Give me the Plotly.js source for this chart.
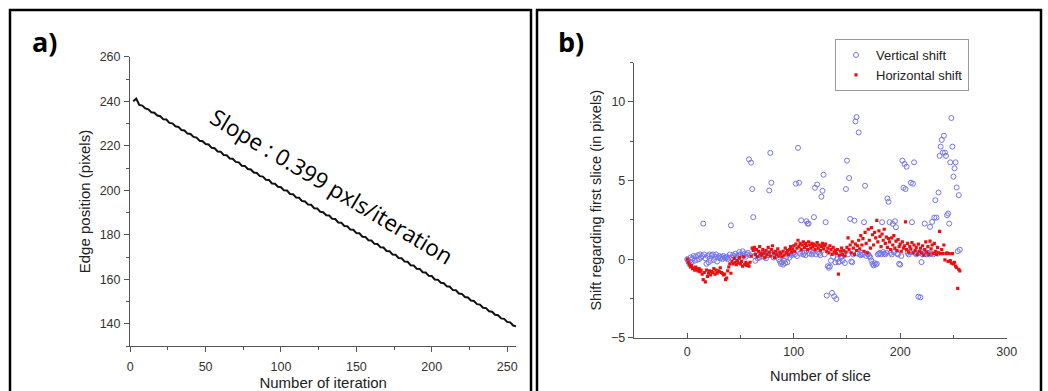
<!DOCTYPE html>
<html>
<head>
<meta charset="utf-8">
<script src="https://cdn.plot.ly/plotly-3.0.1.min.js"></script>
<style>html,body{margin:0;padding:0;background:#fff;}#chart{width:1048px;height:391px;}</style>
</head>
<body>
<div id="chart"></div>
<script>
// Panel a: edge position per iteration (iterations 2,4,...,256)
const iterationStart = 2;
const iterationStep = 2;
const edgePosition = [
240.0,241.2,238.4,238.1,236.8,236.4,235.1,234.9,233.6,233.3,
231.9,231.8,230.3,230.1,228.8,228.5,227.1,226.9,225.5,225.3,
224.0,223.7,222.3,222.1,220.8,220.6,219.1,218.9,217.5,217.4,
215.9,215.8,214.3,214.2,212.8,212.6,211.1,211.0,209.6,209.4,
208.0,207.8,206.4,206.2,204.8,204.7,203.1,203.0,201.6,201.4,
200.0,199.9,198.4,198.3,196.8,196.7,195.2,195.0,193.6,193.5,
192.0,191.9,190.4,190.2,188.8,188.7,187.2,187.1,185.6,185.5,
184.0,183.9,182.4,182.3,180.8,180.7,179.2,179.1,177.6,177.5,
176.0,175.9,174.4,174.3,172.8,172.7,171.2,171.1,169.6,169.5,
168.0,167.9,166.4,166.3,164.8,164.7,163.2,163.1,161.6,161.5,
160.0,159.9,158.5,158.3,156.9,156.7,155.2,155.1,153.7,153.5,
152.1,151.9,150.5,150.3,148.9,148.7,147.3,147.1,145.7,145.5,
144.1,143.9,142.5,142.3,140.9,140.7,139.3,138.9
];
const slopeLabel = "Slope : 0.399 pxls/iteration";

// Panel b: shift per slice (slices 0..256)
const sliceStart = 0;
const sliceStep = 1;
const verticalShift = [
0.0,-0.15,-0.3,0.1,-0.2,0.05,0.2,-0.1,0.15,-0.05,
0.25,0.0,0.3,0.1,0.2,2.26,0.3,0.05,-0.3,0.2,
-0.2,0.3,-0.1,0.25,0.3,-0.05,0.15,0.3,-0.15,0.1,
0.2,0.05,0.15,0.0,0.2,0.1,0.05,0.15,0.0,0.1,
0.3,2.15,0.1,0.25,0.2,0.35,0.15,0.05,0.25,0.45,
0.3,0.1,0.5,0.2,0.35,0.15,0.3,0.4,6.35,0.25,
6.14,4.46,2.67,0.2,-0.1,0.3,0.05,0.25,0.1,0.35,
0.2,0.4,0.15,0.3,0.05,0.35,0.25,4.37,6.76,4.86,
0.3,0.1,0.4,0.2,0.35,0.25,0.0,-0.15,-0.3,-0.2,
-0.35,-0.1,-0.25,0.15,-0.2,0.3,0.1,0.4,0.25,0.35,
0.4,0.3,4.8,0.2,7.08,4.86,0.35,2.47,0.45,0.3,
0.4,0.25,2.41,2.26,2.26,0.35,0.5,0.3,0.4,2.67,
4.54,0.3,4.75,0.45,0.35,0.25,3.97,4.35,5.37,0.3,
2.35,-2.32,-0.45,-0.55,-0.47,-0.1,-2.15,0.15,-2.37,-0.2,
-2.54,0.0,-0.2,-0.15,0.1,0.2,-0.1,0.3,-0.25,4.46,
6.27,0.3,5.16,2.56,-0.15,-0.2,0.3,2.45,8.76,9.04,
0.35,8.06,0.3,0.25,0.4,0.3,2.35,4.67,0.2,0.35,
0.3,0.2,0.1,-0.1,-0.3,-0.4,-0.25,-0.35,-0.3,0.3,
0.35,0.4,0.3,2.35,0.45,0.35,0.3,0.4,3.86,3.65,
2.35,0.4,0.3,2.24,0.45,2.41,2.03,0.35,0.3,-0.3,
-0.35,0.2,6.27,4.54,6.06,4.46,5.88,0.4,0.3,0.45,
4.86,2.35,4.8,6.16,0.4,0.3,0.35,-2.39,0.4,-2.43,
-0.19,0.3,0.45,2.26,0.35,0.3,0.4,0.3,2.05,0.35,
2.37,0.3,2.64,3.75,2.64,0.35,4.24,6.57,7.16,7.59,
6.78,7.85,6.78,6.57,2.79,2.9,2.26,6.16,8.98,7.16,
5.25,5.78,6.16,4.56,0.5,4.07,0.6
];
const horizontalShift = [
0.0,-0.2,-0.35,-0.5,-0.4,-0.6,-0.55,-0.7,-0.5,-0.65,
-0.75,-0.6,-0.8,-0.7,-0.95,-1.3,-0.85,-1.45,-0.7,-1.1,
-0.9,-0.75,-1.0,-0.8,-0.85,-0.6,-0.95,-0.7,-0.9,-0.75,
-0.8,-0.55,-0.85,-0.9,-1.0,-0.95,-1.3,-1.2,-0.75,-0.5,
-0.3,-0.9,-0.15,-0.3,0.05,-0.2,-0.35,-0.1,-0.25,0.1,
-0.3,-0.15,-0.45,0.15,-0.35,-0.2,-0.4,-0.3,-0.45,-0.2,
0.2,0.7,0.55,0.75,0.3,0.6,0.15,0.5,0.8,0.35,
0.25,0.6,0.4,0.1,0.55,0.3,0.75,0.45,0.2,0.6,
0.85,0.4,0.1,0.5,0.3,0.65,0.2,0.45,0.35,0.15,
0.5,0.25,0.7,0.4,0.55,0.3,0.6,0.8,0.45,0.65,
0.85,0.5,0.95,0.7,1.2,0.8,1.0,0.6,0.9,1.1,
0.75,1.0,0.85,0.6,1.1,0.9,0.7,1.0,0.8,0.95,
0.6,0.85,1.05,0.7,0.9,0.55,0.8,1.0,0.65,0.85,
0.95,0.5,0.7,0.4,0.85,0.6,0.3,0.75,0.45,0.55,
0.35,0.6,-0.95,0.25,0.5,0.7,0.3,0.55,0.2,0.45,
0.75,1.35,0.6,0.9,0.4,1.1,0.7,0.3,0.95,0.55,
0.85,1.2,0.65,1.5,0.9,1.3,0.5,1.7,1.0,0.4,
1.9,1.2,0.7,2.0,1.55,0.9,1.7,1.35,2.47,1.1,
1.8,1.45,0.8,1.6,1.2,1.9,1.0,1.4,0.75,1.3,
1.1,0.6,1.35,0.9,1.5,0.7,1.15,0.55,1.25,0.8,
0.95,0.5,1.1,0.7,0.85,2.37,0.6,1.0,0.45,0.8,
0.65,1.05,0.4,0.9,0.55,0.75,0.3,0.95,0.5,0.7,
0.4,0.85,0.25,0.6,1.1,0.45,0.8,0.3,1.15,0.65,
0.9,0.35,1.0,0.5,0.3,0.75,0.4,1.77,0.35,0.6,
0.35,0.9,-0.05,0.35,0.4,-0.15,0.35,-0.1,-0.25,0.35,
-0.3,-0.2,-0.45,-0.55,-1.86,-0.65,-0.75
];
const seriesNames = ["Vertical shift", "Horizontal shift"];

const W = 1048, H = 391;
const px = v => v / W;
const py = v => (H - v) / H;

const axisFont = {family: "Liberation Sans, Arial, sans-serif", size: 12.5, color: "#333"};
const titleFontA = {family: "Liberation Sans, Arial, sans-serif", size: 15, color: "#222"};
const titleFontB = {family: "Liberation Sans, Arial, sans-serif", size: 14.5, color: "#222"};

const traces = [
  {
    type: "scatter", mode: "lines",
    x0: iterationStart, dx: iterationStep, y: edgePosition,
    xaxis: "x", yaxis: "y",
    line: {color: "#111", width: 2},
    showlegend: false, hoverinfo: "skip"
  },
  {
    type: "scatter", mode: "markers", name: seriesNames[0],
    x0: sliceStart, dx: sliceStep, y: verticalShift,
    xaxis: "x2", yaxis: "y2",
    marker: {symbol: "circle-open", size: 5, color: "#7474ea", line: {width: 1, color: "#7474ea"}}
  },
  {
    type: "scatter", mode: "markers", name: seriesNames[1],
    x0: sliceStart, dx: sliceStep, y: horizontalShift,
    xaxis: "x2", yaxis: "y2",
    marker: {symbol: "square", size: 3.2, color: "#e81010"}
  }
];

const commonAxis = {
  showline: true, linecolor: "#555", linewidth: 1.2,
  showgrid: false, zeroline: false,
  tickcolor: "#555", tickwidth: 1, ticklen: 5,
  tickfont: axisFont, automargin: false, fixedrange: true
};

const layout = {
  width: W, height: H,
  margin: {l: 0, r: 0, t: 0, b: 0},
  paper_bgcolor: "#fff", plot_bgcolor: "#fff",
  showlegend: true,
  legend: {
    x: px(835), y: py(39), xanchor: "left", yanchor: "top",
    bgcolor: "#fff", bordercolor: "#9a9a9a", borderwidth: 1,
    font: {family: "Liberation Sans, Arial, sans-serif", size: 13, color: "#222"},
    tracegroupgap: 0, itemwidth: 30
  },
  xaxis: Object.assign({}, commonAxis, {
    domain: [px(130.2), px(516.2)], range: [0, 256], anchor: "y",
    tickmode: "linear", tick0: 0, dtick: 50, ticks: "outside", ticklabelstandoff: 4,
    minor: {dtick: 25, ticks: "outside", ticklen: 3, tickcolor: "#555"},
    title: {text: "Number of iteration", font: titleFontA, standoff: 9}
  }),
  yaxis: Object.assign({}, commonAxis, {
    domain: [py(346.2), py(56.8)], range: [130, 260], anchor: "x",
    tickmode: "linear", tick0: 140, dtick: 20, ticks: "outside", ticklabelstandoff: 1,
    minor: {dtick: 10, tick0: 130, ticks: "outside", ticklen: 3, tickcolor: "#555"},
    title: {text: "Edge position (pixels)", font: titleFontA, standoff: 5}
  }),
  xaxis2: Object.assign({}, commonAxis, {
    domain: [px(634), px(1006.7)], range: [-50, 300], anchor: "y2",
    tickmode: "linear", tick0: 0, dtick: 100, ticks: "inside", ticklabelstandoff: 2,
    minor: {dtick: 50, tick0: 0, ticks: "inside", ticklen: 3, tickcolor: "#555"},
    title: {text: "Number of slice", font: titleFontB, standoff: 13}
  }),
  yaxis2: Object.assign({}, commonAxis, {
    domain: [py(337.7), py(62.7)], range: [-5, 12.5], anchor: "x2",
    tickmode: "linear", tick0: -5, dtick: 5, ticks: "outside",
    minor: {dtick: 2.5, tick0: -5, ticks: "outside", ticklen: 3, tickcolor: "#555"},
    title: {text: "Shift regarding first slice (in pixels)", font: titleFontB, standoff: 6}
  }),
  shapes: [
    {type: "rect", xref: "paper", yref: "paper", x0: px(10), x1: px(531), y0: -0.05, y1: py(10),
     line: {color: "#000", width: 2.5}, fillcolor: "rgba(0,0,0,0)", layer: "above"},
    {type: "rect", xref: "paper", yref: "paper", x0: px(537), x1: px(1041), y0: -0.05, y1: py(10),
     line: {color: "#000", width: 2.5}, fillcolor: "rgba(0,0,0,0)", layer: "above"}
  ],
  annotations: [
    {text: "<b>a)</b>", xref: "paper", yref: "paper", x: px(30), y: py(41), xanchor: "left", yanchor: "middle",
     showarrow: false, font: {family: "Open Sans, sans-serif", size: 27, color: "#000"}},
    {text: "<b>b)</b>", xref: "paper", yref: "paper", x: px(556), y: py(41), xanchor: "left", yanchor: "middle",
     showarrow: false, font: {family: "Open Sans, sans-serif", size: 27, color: "#000"}},
    {text: slopeLabel, xref: "paper", yref: "paper", x: px(332), y: py(186), xanchor: "center", yanchor: "middle",
     textangle: 31, showarrow: false, font: {family: "Open Sans, sans-serif", size: 22.5, color: "#000"}}
  ]
};

Plotly.newPlot("chart", traces, layout, {staticPlot: true, displayModeBar: false});
</script>
</body>
</html>
